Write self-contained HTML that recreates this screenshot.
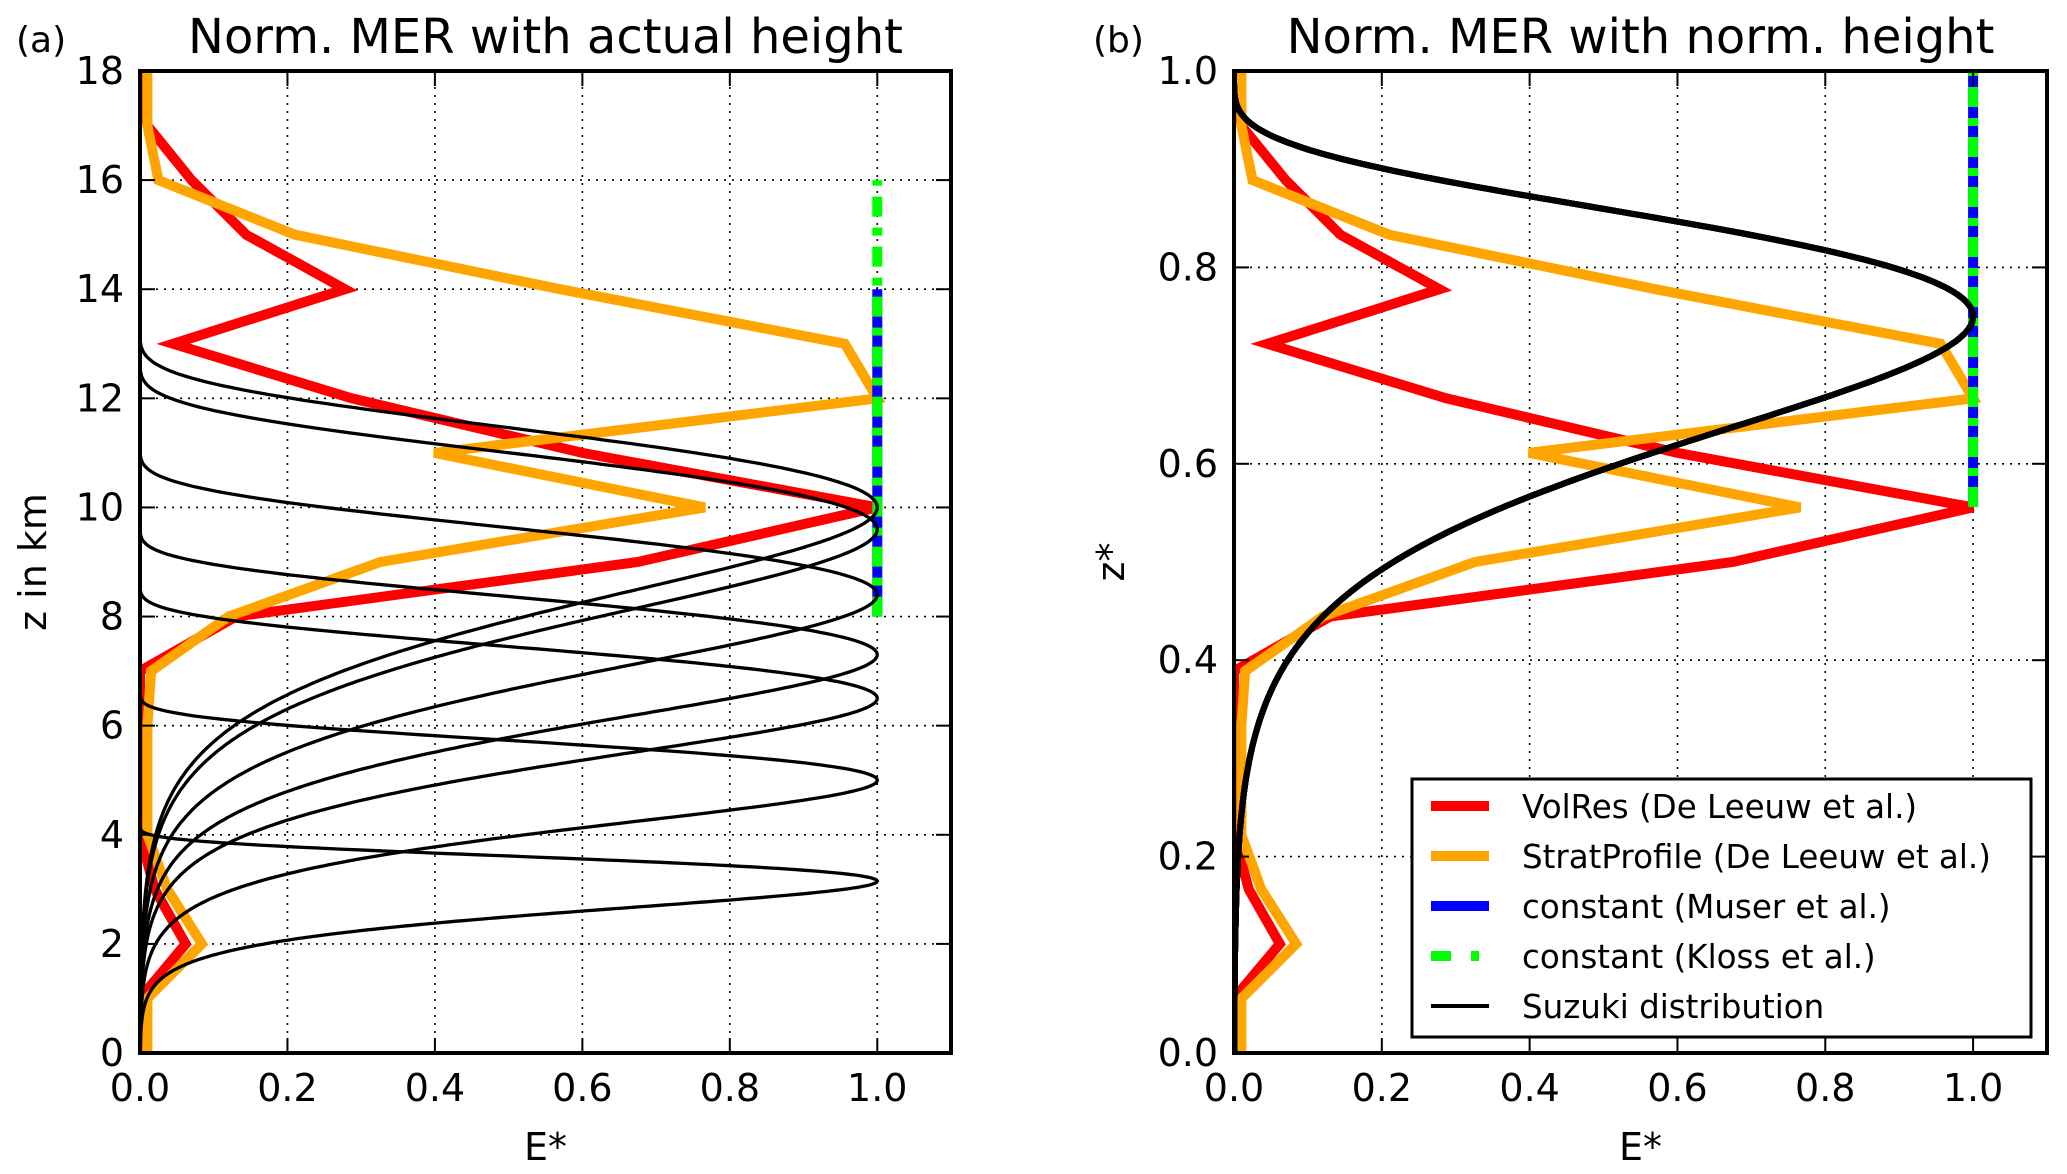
<!DOCTYPE html>
<html><head><meta charset="utf-8">
<style>
html,body{margin:0;padding:0;background:#fff;}
svg{display:block;font-family:"DejaVu Sans","Liberation Sans",sans-serif;}
</style></head>
<body>
<svg id="fig" width="2067" height="1174" viewBox="0 0 2067 1174" xmlns="http://www.w3.org/2000/svg"></svg>
<script>
// ---- data ----
const zKm = [0,1,2,3,4,5,6,7,8,9,10,11,12,13,14,15,16,17,18];
const volres = [0,0,0.062,0.02,0,0,0,0,0.13,0.675,1.0,0.6,0.287,0.045,0.278,0.144,0.07,0.01,0];
const stratprofile = [0.01,0.01,0.084,0.037,0.01,0.01,0.01,0.015,0.12,0.326,0.766,0.399,1.0,0.956,0.57,0.21,0.025,0.01,0.01];
const museurA = [8,14];
const klossA = [8,16];
const museurB = [0.556,1.0];
const klossB = [0.556,1.0];
const suzukiPeaks = [3.15,5.0,6.5,7.3,8.4,9.6,10.0];
const suzukiA = 4, suzukiLambda = 5;
const zTop = 18;
const xTicks = [0,0.2,0.4,0.6,0.8,1.0];
const xTickLabels = ["0.0","0.2","0.4","0.6","0.8","1.0"];
const yTicksA = [0,2,4,6,8,10,12,14,16,18];
const yTicksB = [0,0.2,0.4,0.6,0.8,1.0];
const yTickLabelsB = ["0.0","0.2","0.4","0.6","0.8","1.0"];

const NS="http://www.w3.org/2000/svg";
const svg=document.getElementById('fig');
function mk(tag,attrs,parent){const e=document.createElementNS(NS,tag);for(const k in attrs)e.setAttribute(k,attrs[k]);(parent||svg).appendChild(e);return e;}

function suzuki(zeta){
  const f=z=>Math.max(0,(1-z))*Math.exp(suzukiA*(z-1));
  const m=f(1-1/suzukiA);
  return Math.pow(f(zeta)/m,suzukiLambda);
}

function makeAxes(cfg){
  const {x0,x1,y0,y1,ymax,id}=cfg;
  const sx=v=>x0+(v/1.1)*(x1-x0);
  const sy=v=>y1-(v/ymax)*(y1-y0);
  const g=mk('g',{});
  
  
  const cp=mk('clipPath',{id:id},mk('defs',{},g));
  mk('rect',{x:x0,y:y0,width:x1-x0,height:y1-y0},cp);
  const grid=mk('g',{stroke:'#000','stroke-width':1.6,'stroke-dasharray':'2 6'},g);
  
  
  xTicks.forEach(t=>{if(t>0) mk('line',{x1:sx(t),x2:sx(t),y1:y0,y2:y1},grid);});
  cfg.yTicks.forEach(t=>{if(t>0&&t<ymax) mk('line',{x1:x0,x2:x1,y1:sy(t),y2:sy(t)},grid);});
  const plot=mk('g',{'clip-path':`url(#${id})`,fill:'none','stroke-linejoin':'miter'},g);
  return {g,plot,sx,sy};
}

function finishAxes(ax,cfg){
  const {x0,x1,y0,y1}=cfg;const {g,sx,sy}=ax;
  const tk=mk('g',{stroke:'#000','stroke-width':2},g);
  
  
  xTicks.forEach(t=>{mk('line',{x1:sx(t),x2:sx(t),y1:y1,y2:y1-15},tk);mk('line',{x1:sx(t),x2:sx(t),y1:y0,y2:y0+15},tk);});
  cfg.yTicks.forEach(t=>{mk('line',{x1:x0,x2:x0+15,y1:sy(t),y2:sy(t)},tk);mk('line',{x1:x1,x2:x1-15,y1:sy(t),y2:sy(t)},tk);});
  const fr=mk('rect',{x:x0,y:y0,width:x1-x0,height:y1-y0,fill:'none',stroke:'#000','stroke-width':4},g);
  
  
  xTicks.forEach((t,i)=>{const e=mk('text',{x:sx(t),y:y1+48,'font-size':38,'text-anchor':'middle'},g);e.textContent=xTickLabels[i];
    
    });
  cfg.yTicks.forEach((t,i)=>{const e=mk('text',{x:x0-16,y:sy(t)+13,'font-size':38,'text-anchor':'end'},g);e.textContent=cfg.yLabels[i];
    
    });
  let e=mk('text',{x:(x0+x1)/2,y:1160,'font-size':38,'text-anchor':'middle'},g);e.textContent='E*';
  
  
  e=mk('text',{x:cfg.ylx,y:(y0+y1)/2,'font-size':38,'text-anchor':'middle',transform:`rotate(-90 ${cfg.ylx} ${(y0+y1)/2})`},g);e.textContent=cfg.ylabel;
  
  
  e=mk('text',{x:(x0+x1)/2,y:53,'font-size':48,'text-anchor':'middle'},g);e.textContent=cfg.title;
  
  
  e=mk('text',{x:cfg.px,y:52,'font-size':36},g);e.textContent=cfg.panel;
  
  
}

function poly(parent,pts,attrs,name){
  const p=mk('polyline',Object.assign({points:pts.map(p=>p[0].toFixed(1)+','+p[1].toFixed(1)).join(' ')},attrs),parent);
  
  
  return p;
}

const redS={stroke:'#ff0000','stroke-width':10};
const orS={stroke:'#ffa500','stroke-width':10};
const blS={stroke:'#0000ff','stroke-width':10};
const grS={stroke:'#00ff00','stroke-width':10,'stroke-dasharray':'20 11 8 11'};
const bkS={stroke:'#000','stroke-width':3.3};

// Panel A
const cfgA={x0:140,x1:951,y0:71,y1:1053,ymax:18,id:'clipA',name:'panel-a',yTicks:yTicksA,yLabels:yTicksA.map(String),
  ylabel:'z in km',ylx:46,title:'Norm. MER with actual height',panel:'(a)',px:16};
const A=makeAxes(cfgA);
poly(A.plot,zKm.map((z,i)=>[A.sx(volres[i]),A.sy(z)]),redS,'volres-line');
poly(A.plot,zKm.map((z,i)=>[A.sx(stratprofile[i]),A.sy(z)]),orS,'stratprofile-line');
poly(A.plot,museurA.map(z=>[A.sx(1),A.sy(z)]),blS,'constant-muser-line');
poly(A.plot,klossA.map(z=>[A.sx(1),A.sy(z)]),grS,'constant-kloss-line');
suzukiPeaks.forEach(pk=>{
  const H=pk/(1-1/suzukiA);const pts=[];
  for(let i=0;i<=400;i++){const zeta=i/400;pts.push([A.sx(suzuki(zeta)),A.sy(zeta*H)]);}
  poly(A.plot,pts,bkS,'suzuki-curve');
});
finishAxes(A,cfgA);

// Panel B
const cfgB={x0:1234,x1:2047,y0:71,y1:1053,ymax:1,id:'clipB',name:'panel-b',yTicks:yTicksB,yLabels:yTickLabelsB,
  ylabel:'z*',ylx:1124,title:'Norm. MER with norm. height',panel:'(b)',px:1093};
const B=makeAxes(cfgB);
poly(B.plot,zKm.map((z,i)=>[B.sx(volres[i]),B.sy(z/zTop)]),redS,'volres-line');
poly(B.plot,zKm.map((z,i)=>[B.sx(stratprofile[i]),B.sy(z/zTop)]),orS,'stratprofile-line');
poly(B.plot,museurB.map(z=>[B.sx(1),B.sy(z)]),blS,'constant-muser-line');
poly(B.plot,klossB.map(z=>[B.sx(1),B.sy(z)]),grS,'constant-kloss-line');
suzukiPeaks.forEach(pk=>{
  const pts=[];
  for(let i=0;i<=400;i++){const zeta=i/400;pts.push([B.sx(suzuki(zeta)),B.sy(zeta)]);}
  poly(B.plot,pts,{stroke:'#000','stroke-width':6},'suzuki-curve');
});
finishAxes(B,cfgB);

// Legend
const lg=mk('g',{});


mk('rect',{x:1412,y:779,width:619,height:258,fill:'#fff',stroke:'#000','stroke-width':3},lg);
const legNames=['VolRes (De Leeuw et al.)','StratProfile (De Leeuw et al.)','constant (Muser et al.)','constant (Kloss et al.)','Suzuki distribution'];
const legStyles=[redS,orS,blS,{stroke:'#00ff00','stroke-width':10,'stroke-dasharray':'20 20 8 20'},{stroke:'#000','stroke-width':4}];
legNames.forEach((n,i)=>{
  const y=806+i*50;
  const ent=mk('g',{},lg);
  
  
  mk('line',Object.assign({x1:1431,x2:1489,y1:y,y2:y},legStyles[i]),ent);
  const t=mk('text',{x:1522,y:y+12,'font-size':32.5},ent);t.textContent=n;
});
</script>
</body></html>
